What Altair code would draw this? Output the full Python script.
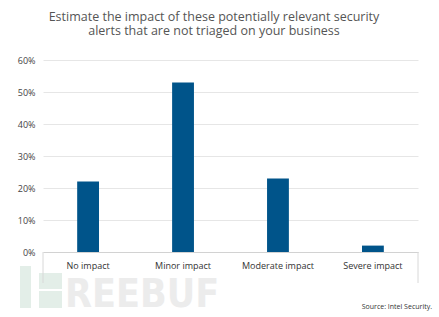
import altair as alt
import pandas as pd

# Survey answers
categories = ["No impact", "Minor impact", "Moderate impact", "Severe impact"]
shares = [0.22, 0.53, 0.23, 0.02]
y_ticks = [0, 0.1, 0.2, 0.3, 0.4, 0.5, 0.6]

title_lines = [
    "Estimate the impact of these potentially relevant security",
    "alerts that are not triaged on your business",
]
source_note = "Source: Intel Security."
watermark = "REEBUF"

W, H = 375, 192
FONT = "Open Sans"
BAR = "#00548A"

df = pd.DataFrame({"category": categories, "share": shares})
one = pd.DataFrame({"k": [0]})

bars = alt.Chart(df).mark_bar(color=BAR).encode(
    x=alt.X(
        "category:N",
        sort=categories,
        scale=alt.Scale(paddingInner=0.77, paddingOuter=0.36),
        axis=alt.Axis(
            title=None, labelAngle=0, ticks=False, labelPadding=9,
            labelFontSize=9, labelColor="#333333", labelFont=FONT,
            domainColor="#d2d2d2", domainWidth=1,
        ),
    ),
    y=alt.Y(
        "share:Q",
        scale=alt.Scale(domain=[0, 0.6], nice=False),
        axis=alt.Axis(
            title=None, values=y_ticks, format=".0%", ticks=False, domain=False,
            labelPadding=8, labelFontSize=9, labelColor="#444444", labelFont=FONT,
            gridColor="#e6e6e6", gridWidth=1,
        ),
    ),
)

# side borders of the category label strip
sides = alt.Chart(pd.DataFrame({"x": [0, W]})).mark_rule(
    color="#d8d8d8", strokeWidth=1
).encode(
    x=alt.X("x:Q", scale=alt.Scale(domain=[0, W], range=[0, W]), axis=None),
    y=alt.value(H),
    y2=alt.value(H + 31),
)

# faint logo blocks and lettering
logo = alt.Chart(pd.DataFrame({"x0": [-23, -4, -4], "x1": [-12, 19, 19],
                               "y0": [206, 213, 231], "y1": [248, 229, 248]})).mark_rect(
    color="#e3eee8"
).encode(
    x=alt.X("x0:Q", scale=None), x2="x1:Q",
    y=alt.Y("y0:Q", scale=None), y2="y1:Q",
)
mark_text = alt.Chart(one).mark_text(
    text=watermark, font="DejaVu Sans Condensed",
    fontWeight="bold", fontSize=39,
    color="#ececec", align="left", baseline="alphabetic",
).encode(x=alt.value(22), y=alt.value(247))

t1 = alt.Chart(one).mark_text(
    text=title_lines[0], font=FONT, fontSize=12.5, color="#555555",
    align="center", baseline="alphabetic",
).encode(x=alt.value(171), y=alt.value(-39.5))
t2 = alt.Chart(one).mark_text(
    text=title_lines[1], font=FONT, fontSize=12.5, color="#555555",
    align="center", baseline="alphabetic",
).encode(x=alt.value(171), y=alt.value(-25))

src = alt.Chart(one).mark_text(
    text=source_note, font=FONT, fontSize=7, color="#333333",
    align="right", baseline="alphabetic",
).encode(x=alt.value(389), y=alt.value(249))

chart = alt.layer(logo, mark_text, bars, sides, t1, t2, src).resolve_scale(
    x="independent"
).properties(
    width=W, height=H,
    autosize=alt.AutoSizeParams(type="none"),
    padding={"left": 43, "top": 60, "right": 21, "bottom": 65},
    background="white",
).configure_view(stroke=None)

chart.save("out.html", embed_options={"renderer": "svg", "actions": False})
